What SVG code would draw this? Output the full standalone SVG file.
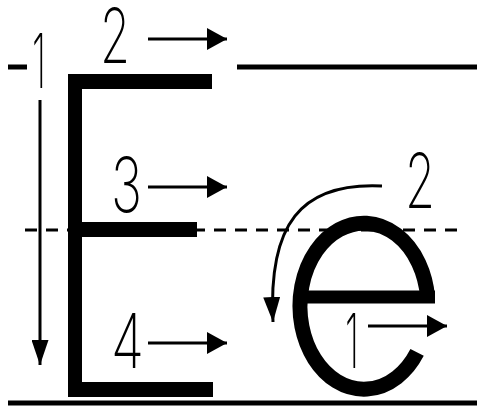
<svg xmlns="http://www.w3.org/2000/svg" width="477" height="411" viewBox="0 0 477 411">
<style>
.guide{stroke:#000;stroke-width:5;fill:none}
.dash{stroke:#000;stroke-width:3;fill:none;stroke-dasharray:12 9}
.ink{fill:#000}
.stroke{stroke:#000;stroke-width:3;fill:none}
.num{font-family:Inter,"Liberation Sans",sans-serif;font-weight:200;font-size:76px;fill:#000}
</style>
<defs>
<marker id="ah" markerUnits="userSpaceOnUse" markerWidth="20" markerHeight="22" refX="20" refY="11" orient="auto" viewBox="0 0 20 22"><path d="M0,0 L20,11 L0,22 z" fill="#000"/></marker>
<marker id="ahd" markerUnits="userSpaceOnUse" markerWidth="25" markerHeight="17" refX="25" refY="8.5" orient="auto" viewBox="0 0 25 17"><path d="M0,0 L25,8.5 L0,17 z" fill="#000"/></marker>
</defs>
<rect width="477" height="411" fill="#fff"/>
<g id="guides">
<line class="guide" x1="8" y1="67" x2="27" y2="67"/>
<line class="guide" x1="237" y1="67" x2="477" y2="67"/>
<line class="dash" x1="25" y1="230" x2="462" y2="230"/>
<line class="guide" x1="8" y1="403" x2="477" y2="403"/>
</g>
<g id="letter-E">
<rect class="ink" x="68" y="74" width="14" height="323"/>
<rect class="ink" x="68" y="74" width="144" height="15"/>
<rect class="ink" x="68" y="222" width="129" height="15"/>
<rect class="ink" x="68" y="382" width="145" height="15"/>
</g>
<g id="letter-e">
<path d="M427.6,297.3 A64,83 0 1 0 417.1,352.4" fill="none" stroke="#000" stroke-width="15"/>
<rect class="ink" x="300" y="290.5" width="135" height="13"/>
</g>
<g id="connectors">
<line class="stroke" x1="40" y1="100" x2="40" y2="365" marker-end="url(#ahd)"/>
<line class="stroke" x1="148" y1="39" x2="227" y2="39" marker-end="url(#ah)"/>
<line class="stroke" x1="148" y1="187" x2="227" y2="187" marker-end="url(#ah)"/>
<line class="stroke" x1="148" y1="343" x2="227" y2="343" marker-end="url(#ah)"/>
<line class="stroke" x1="368" y1="326" x2="447" y2="326" marker-end="url(#ah)"/>
<path class="stroke" d="M382,186 C300,182 268,225 273,322" marker-end="url(#ahd)"/>
</g>
<g id="labels">
<text class="num" x="32" y="88" textLength="14" lengthAdjust="spacingAndGlyphs">1</text>
<text class="num" x="100" y="63" textLength="30" lengthAdjust="spacingAndGlyphs">2</text>
<text class="num" x="111" y="212" textLength="31" lengthAdjust="spacingAndGlyphs">3</text>
<text class="num" x="111" y="368" textLength="33" lengthAdjust="spacingAndGlyphs">4</text>
<text class="num" x="405" y="208" textLength="30" lengthAdjust="spacingAndGlyphs">2</text>
<text class="num" x="345" y="368" textLength="14" lengthAdjust="spacingAndGlyphs">1</text>
</g>
</svg>
